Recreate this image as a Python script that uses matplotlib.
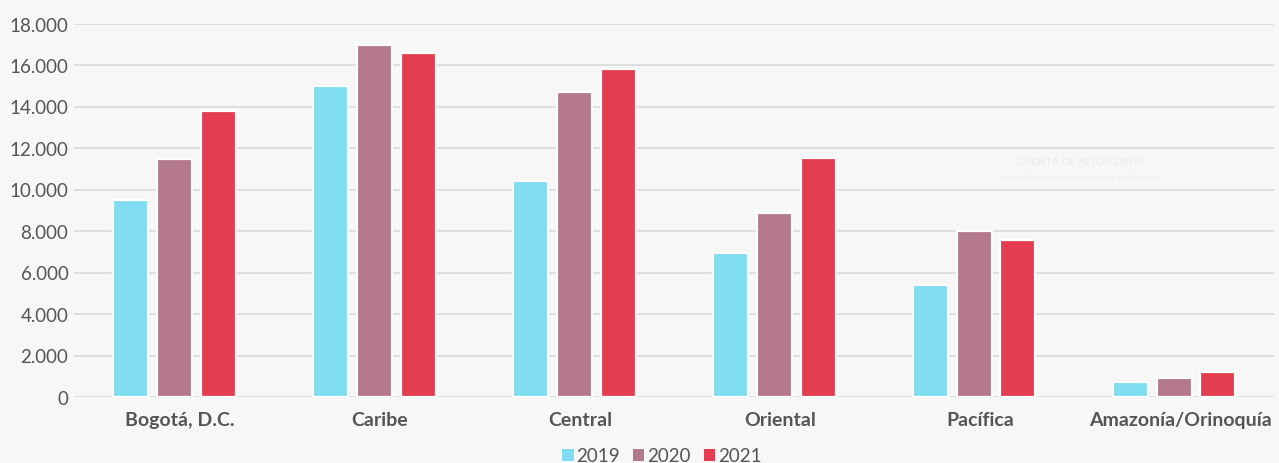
import numpy as np
import matplotlib
matplotlib.use("Agg")
import matplotlib.pyplot as plt
from matplotlib.ticker import FuncFormatter
from matplotlib.patches import Patch

regions = ["Bogotá, D.C.", "Caribe", "Central", "Oriental", "Pacífica", "Amazonía/Orinoquía"]
years = ["2019", "2020", "2021"]
casos_2019 = [9490, 15000, 10410, 6920, 5400, 740]
casos_2020 = [11470, 16980, 14710, 8870, 8020, 930]
casos_2021 = [13770, 16560, 15820, 11530, 7580, 1220]
colors = ["#80DDF1", "#B47A8C", "#E43D50"]
y_ticks = [0, 2000, 4000, 6000, 8000, 10000, 12000, 14000, 16000, 18000]

plt.rcParams["font.family"] = ["Lato", "DejaVu Sans"]

bg = "#F7F7F7"
fig = plt.figure(figsize=(12.79, 4.64), dpi=100, facecolor=bg)
ax = fig.add_axes([74 / 1279, 1 - 398 / 464, 1200 / 1279, (398 - 24.5) / 464])
ax.set_facecolor(bg)

x = np.arange(len(regions))
width = 0.175
step = 0.22
for i, (vals, col, yr) in enumerate(zip([casos_2019, casos_2020, casos_2021], colors, years)):
    ax.bar(x + (i - 1) * step, vals, width, color=col, edgecolor="white",
           linewidth=1.6, label=yr, zorder=3)

ax.set_xlim(-0.5, len(regions) - 0.5)
ax.set_ylim(0, 18000)
ax.set_yticks(y_ticks)
ax.yaxis.set_major_formatter(FuncFormatter(lambda v, p: f"{int(v):,}".replace(",", ".")))
# category labels sit slightly right of the bar-group centre
ax.set_xticks(x + 0.03)
ax.set_xticklabels(regions, fontweight="bold", fontsize=14, color="#555555")
ax.tick_params(axis="y", labelsize=13.5, colors="#555555", length=0, pad=4)
ax.tick_params(axis="x", length=0, pad=10)
ax.grid(axis="y", color="#DCDCDC", linewidth=1.3, zorder=0)
ax.set_axisbelow(True)
for s in ax.spines.values():
    s.set_visible(False)

# faint watermark
fig.text(1080 / 1279, 1 - 163 / 464, "CUENTA DE ALTO COSTO", fontsize=7.5,
         fontweight="bold", color="#ECECEC", ha="center", va="center", zorder=0)
fig.text(1080 / 1279, 1 - 178 / 464, "Fondo Colombiano de Enfermedades de Alto Costo",
         fontsize=5, color="#EEEEEE", ha="center", va="center", zorder=0)

handles = [Patch(facecolor=c, edgecolor="none") for c in colors]
fig.legend(handles, years, loc="center", bbox_to_anchor=(662 / 1279, 1 - 457 / 464),
           ncol=3, frameon=False, fontsize=13.5, handlelength=0.6, handleheight=0.6,
           handletextpad=0.15, columnspacing=0.7, labelcolor="#555555")

fig.savefig("out.png", dpi=100, facecolor=bg)
